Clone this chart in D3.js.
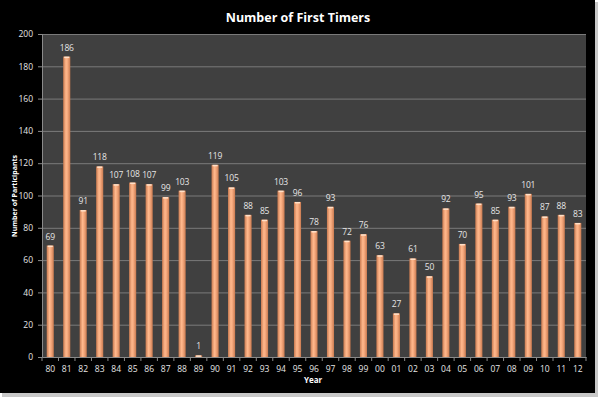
<!DOCTYPE html>
<html><head><meta charset="utf-8">
<script src="https://cdn.jsdelivr.net/npm/d3@7"></script>
<style>body{margin:0;background:#fff;}svg{display:block;}</style>
</head><body>
<svg id="c" width="600" height="399"></svg>
<script>
const years = ["80","81","82","83","84","85","86","87","88","89","90","91","92","93","94","95","96","97","98","99","00","01","02","03","04","05","06","07","08","09","10","11","12"];
const participants = [69,186,91,118,107,108,107,99,103,1,119,105,88,85,103,96,78,93,72,76,63,27,61,50,92,70,95,85,93,101,87,88,83];
const yTicks = [0,20,40,60,80,100,120,140,160,180,200];

const svg = d3.select("#c");
const font = "'Open Sans', 'Liberation Sans', sans-serif";
svg.append("rect").attr("x",0).attr("y",0).attr("width",600).attr("height",399).attr("fill","#fff");
svg.append("rect").attr("x",2).attr("y",2).attr("width",596).attr("height",395).attr("fill","#c8c8c8");
svg.append("rect").attr("x",0).attr("y",0).attr("width",595).attr("height",393).attr("fill","#000");

const L=42, R=586, T=34, B=357;
const x = d3.scaleBand().domain(years).range([L,R]).paddingInner(0.57).paddingOuter(0.285);
const xb = d3.scaleBand().domain(years).range([L,R]);
const y = d3.scaleLinear().domain([0,200]).range([B,T]);

svg.append("rect").attr("x",L).attr("y",T).attr("width",R-L).attr("height",B-T).attr("fill","#404040");

const defs = svg.append("defs");
const g = defs.append("linearGradient").attr("id","bar").attr("x1","0").attr("x2","1").attr("y1","0").attr("y2","0");
g.append("stop").attr("offset","0").attr("stop-color","#c97a50");
g.append("stop").attr("offset","0.4").attr("stop-color","#ffb88c");
g.append("stop").attr("offset","0.6").attr("stop-color","#f7ab7f");
g.append("stop").attr("offset","1").attr("stop-color","#c97a50");

svg.append("g").selectAll("line").data(yTicks.filter(d=>d>0)).join("line")
  .attr("x1",L).attr("x2",R).attr("y1",d=>y(d)+0.5).attr("y2",d=>y(d)+0.5)
  .attr("stroke","#7a7a7a").attr("stroke-width",1);

const yAxis = svg.append("g").attr("transform",`translate(${L},0)`)
  .call(d3.axisLeft(y).tickValues(yTicks).tickSize(4).tickPadding(5));
yAxis.select(".domain").attr("stroke","#8a8a8a");
yAxis.selectAll(".tick line").attr("stroke","#8a8a8a");
yAxis.selectAll("text").attr("fill","#e6e6e6").attr("font-size","8.5px").attr("font-family",font);

const xAxis = svg.append("g").attr("transform",`translate(0,${B})`)
  .call(d3.axisBottom(xb).tickSize(0).tickPadding(9));
xAxis.select(".domain").attr("stroke","#8a8a8a");
xAxis.selectAll("text").attr("fill","#e6e6e6").attr("font-size","8.5px").attr("font-family",font);
svg.append("g").selectAll("line").data(years.concat(["end"])).join("line")
  .attr("x1",(d,i)=>L+i*xb.step()).attr("x2",(d,i)=>L+i*xb.step())
  .attr("y1",B).attr("y2",B+4).attr("stroke","#8a8a8a");

svg.append("g").selectAll("rect").data(participants).join("rect")
  .attr("x",(d,i)=>x(years[i])).attr("width",x.bandwidth())
  .attr("y",d=>y(d)).attr("height",d=>B-y(d)).attr("fill","url(#bar)");
svg.append("g").selectAll("rect").data(participants).join("rect")
  .attr("x",(d,i)=>x(years[i])+1).attr("width",x.bandwidth()-2)
  .attr("y",d=>y(d)).attr("height",d=>Math.min(1.5,B-y(d))).attr("fill","#ffe0c8");

svg.append("g").selectAll("text").data(participants).join("text")
  .attr("x",(d,i)=>x(years[i])+x.bandwidth()/2).attr("y",d=>y(d)-6)
  .attr("text-anchor","middle").attr("fill","#e6e6e6").attr("font-size","8.5px").attr("font-family",font)
  .attr("letter-spacing","-0.2px")
  .text(d=>d);

svg.append("text").attr("x",298).attr("y",22).attr("text-anchor","middle")
  .attr("fill","#fff").attr("font-weight","bold").attr("font-size","12.5px").attr("font-family",font)
  .text("Number of First Timers");
svg.append("text").attr("x",313).attr("y",383).attr("text-anchor","middle")
  .attr("fill","#fff").attr("font-weight","bold").attr("font-size","8px").attr("font-family",font)
  .text("Year");
svg.append("text").attr("transform","translate(17,196) rotate(-90)").attr("text-anchor","middle")
  .attr("fill","#fff").attr("font-weight","bold").attr("font-size","7px").attr("font-family",font)
  .text("Number of Participants");
</script>
</body></html>
